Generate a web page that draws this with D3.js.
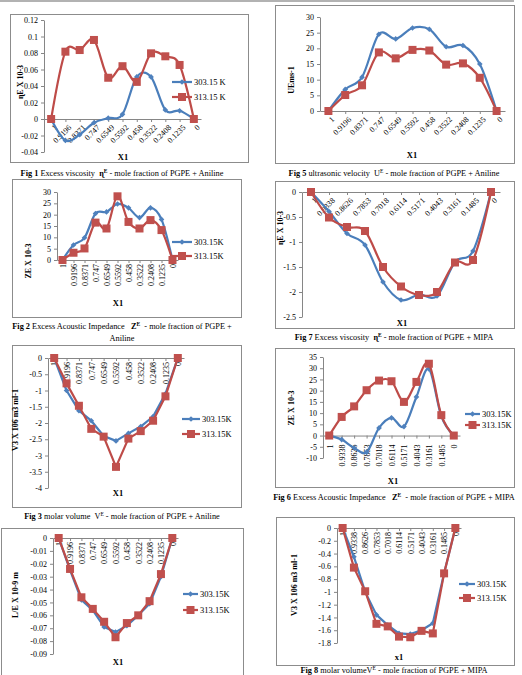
<!DOCTYPE html>
<html>
<head>
<meta charset="utf-8">
<script src="https://cdn.jsdelivr.net/npm/d3@7"></script>
<style>
  body { margin: 0; background: #fff; }
  svg { display: block; font-family: "Liberation Serif", "Times New Roman", serif; }
  .axis path, .axis line { stroke: #868686; }
  .axis text { font-size: 8px; fill: #000; font-family: "Liberation Serif", serif; }
</style>
</head>
<body>
<svg width="522" height="675"></svg>
<script>
// categories (mole fraction X1)
const catAniline = ["1", "0.9196", "0.8371", "0.747", "0.6549", "0.5592", "0.458", "0.3522", "0.2408", "0.1235", "0"];
const catMipa = ["1", "0.9338", "0.8626", "0.7853", "0.7018", "0.6114", "0.5171", "0.4043", "0.3161", "0.1485", "0"];

// series
const etaAn303 = [0, -0.026, -0.019, -0.0045, 0.001, 0.0057, 0.051, 0.051, 0.011, 0.010, 0];
const etaAn313 = [0, 0.0816, 0.0836, 0.0958, 0.050, 0.064, 0.045, 0.0796, 0.076, 0.0655, 0];
const uAn303 = [0, 6.9, 10.8, 24.5, 23, 26.5, 26.1, 20.5, 20.9, 15, 0];
const uAn313 = [0, 5.1, 8.2, 18.7, 16.8, 19.5, 19.3, 14.8, 15.2, 10.6, 0];
const zAn303 = [0, 6.6, 9.8, 20.5, 21.2, 24.7, 23, 18.7, 23, 17.9, 0];
const zAn313 = [0, 3.2, 5.1, 16.5, 13.9, 28.1, 16.8, 13.9, 17.6, 13.2, 0];
const etaMi303 = [0, -0.39, -0.83, -1.06, -1.80, -2.16, -2.05, -2.08, -1.40, -1.18, 0];
const etaMi313 = [0, -0.51, -0.70, -0.78, -1.50, -1.89, -2.06, -2.0, -1.41, -1.36, 0];
const vAn303 = [0, -1.0, -1.62, -1.93, -2.4, -2.55, -2.32, -2.11, -1.8, -1.1, 0];
const vAn313 = [0, -0.78, -1.47, -2.18, -2.42, -3.35, -2.48, -2.25, -1.93, -1.18, 0];
const zMi303 = [0, -1.8, -5.5, -7.4, 3.4, 7.9, 4.0, 17.2, 29.7, 8.6, 0];
const zMi313 = [0, 8.3, 13, 20.2, 24.5, 24.2, 15, 23.9, 32, 9.1, 0];
const lAn303 = [0, -0.025, -0.048, -0.056, -0.069, -0.073, -0.068, -0.060, -0.051, -0.030, 0];
const lAn313 = [0, -0.024, -0.046, -0.055, -0.065, -0.077, -0.066, -0.060, -0.049, -0.028, 0];
const vMi303 = [0, -0.45, -1.0, -1.36, -1.52, -1.65, -1.66, -1.6, -1.49, -0.71, 0];
const vMi313 = [0, -0.62, -0.99, -1.5, -1.54, -1.7, -1.71, -1.61, -1.65, -0.71, 0];

// y tick labels
const ticksEtaAn = [-0.04, -0.02, 0, 0.02, 0.04, 0.06, 0.08, 0.1, 0.12];
const ticksUAn = [0, 5, 10, 15, 20, 25, 30];
const ticksZAn = [0, 5, 10, 15, 20, 25, 30];
const ticksEtaMi = [0, -0.5, -1, -1.5, -2, -2.5];
const ticksVAn = [0, -0.5, -1, -1.5, -2, -2.5, -3, -3.5, -4];
const ticksZMi = [-10, -5, 0, 5, 10, 15, 20, 25, 30, 35];
const ticksLAn = [0, -0.01, -0.02, -0.03, -0.04, -0.05, -0.06, -0.07, -0.08, -0.09];
const ticksVMi = [0, -0.2, -0.4, -0.6, -0.8, -1, -1.2, -1.4, -1.6, -1.8];

const blue = "#4A7EBB", red = "#BE4B48";
const svg = d3.select("svg");

// gray rule at the very top (bottom of previous boxes)
svg.append("line").attr("x1", 0).attr("x2", 514).attr("y1", 1).attr("y2", 1)
  .attr("stroke", "#999").attr("stroke-width", 1.5);

const panels = [
  { box: [10, 14, 238, 148], L: 44, W: 157, top: 20, bot: 152, cats: catAniline,
    s1: etaAn303, s2: etaAn313, ticks: ticksEtaAn, lab: "diag", off: 7, smooth: true,
    yTitle: "ɳE X 10-3", yt: [20, 82], xTitle: "X1", xt: [123, 160],
    legend: { x: 172, y: [82, 97], w: 20, names: ["303.15 K", "313.15 K"] } },
  { box: [275, 5, 239, 158], L: 320, W: 185, top: 17, bot: 111, cats: catAniline,
    s1: uAn303, s2: uAn313, ticks: ticksUAn, lab: "diag", off: 7, smooth: true,
    yTitle: "UEms-1", yt: [291, 80], xTitle: "X1", xt: [412, 158], legend: null },
  { box: [12, 179, 229, 138], L: 57, W: 121, top: 192, bot: 260, cats: catAniline,
    s1: zAn303, s2: zAn313, ticks: ticksZAn, lab: "vert", off: 4, smooth: true,
    yTitle: "ZE  X 10-3", yt: [28, 261], xTitle: "X1", xt: [118, 306],
    legend: { x: 172, y: [242, 256], w: 20, names: ["303.15K", "313.15K"] } },
  { box: [275, 181, 239, 147], L: 302, W: 198, top: 192, bot: 317, cats: catMipa,
    s1: etaMi303, s2: etaMi313, ticks: ticksEtaMi, lab: "diag", off: 7, smooth: true,
    yTitle: "ɳE X 10-3", yt: [280, 228], xTitle: "X1", xt: [402, 326], legend: null },
  { box: [12, 345, 229, 162], L: 48, W: 136, top: 358, bot: 488, cats: catAniline,
    s1: vAn303, s2: vAn313, ticks: ticksVAn, lab: "vert", off: 4, smooth: false,
    yTitle: "V3 X 106 m3 ml-1", yt: [15, 420], xTitle: "X1", xt: [118, 496],
    legend: { x: 182, y: [419, 434], w: 18, names: ["303.15K", "313.15K"] } },
  { box: [275, 348, 239, 139], L: 323, W: 137, top: 357, bot: 458, cats: catMipa,
    s1: zMi303, s2: zMi313, ticks: ticksZMi, lab: "vert", off: 9, smooth: true,
    yTitle: "ZE  X 10-3", yt: [291, 408], xTitle: "X1", xt: [393, 484],
    legend: { x: 465, y: [414, 425], w: 15, names: ["303.15K", "313.15K"] } },
  { box: [1, 528, 242, 160], L: 53, W: 125, top: 538, bot: 654, cats: catAniline,
    s1: lAn303, s2: lAn313, ticks: ticksLAn, lab: "vert", off: 4, smooth: false,
    yTitle: "L/E X 10-9 m", yt: [15, 595], xTitle: "X1", xt: [118, 665],
    legend: { x: 183, y: [594, 610], w: 15, names: ["303.15K", "313.15K"] } },
  { box: [276, 517, 238, 148], L: 337, W: 124, top: 528, bot: 643, cats: catMipa,
    s1: vMi303, s2: vMi313, ticks: ticksVMi, lab: "vert", off: 4, smooth: false,
    yTitle: "V3 X 106 m3 ml-1", yt: [294, 585], xTitle: "x1", xt: [399, 660],
    legend: { x: 459, y: [584, 598], w: 16, names: ["303.15K", "313.15K"] } }
];

function marker(g, kind, x, y) {
  if (kind === 0) {
    g.append("rect").attr("x", -2).attr("y", -2).attr("width", 4).attr("height", 4)
      .attr("fill", "#4F81BD")
      .attr("transform", `translate(${x},${y}) rotate(45)`);
  } else {
    g.append("rect").attr("x", x - 4).attr("y", y - 4).attr("width", 8).attr("height", 8)
      .attr("fill", "#C0504D");
  }
}

function drawPanel(p) {
  const g = svg.append("g");
  g.append("rect").attr("x", p.box[0] + 0.5).attr("y", p.box[1] + 0.5)
    .attr("width", p.box[2]).attr("height", p.box[3])
    .attr("fill", "none").attr("stroke", "#8c8c8c");

  const x = d3.scalePoint().domain(p.cats).range([p.L, p.L + p.W]).padding(0.5);
  const y = d3.scaleLinear().domain(d3.extent(p.ticks)).range([p.bot, p.top]);

  g.append("g").attr("class", "axis")
    .attr("transform", `translate(${p.L},0)`)
    .call(d3.axisLeft(y).tickValues(p.ticks).tickFormat(d => String(d)).tickSize(3).tickSizeOuter(0).tickPadding(3));

  const xa = g.append("g").attr("class", "axis")
    .attr("transform", `translate(0,${y(0)})`)
    .call(d3.axisBottom(x).tickSize(3).tickSizeOuter(0));
  const tx = xa.selectAll(".tick text").attr("x", 0).attr("y", 0).attr("dy", "0.35em")
    .attr("text-anchor", "end");
  if (p.lab === "diag") tx.attr("transform", `translate(4,${p.off}) rotate(-45)`);
  else tx.attr("transform", `translate(0,${p.off}) rotate(-90)`);

  const line = d3.line()
    .x((d, i) => x(p.cats[i])).y(d => y(d))
    .curve(p.smooth ? d3.curveCardinal.tension(0) : d3.curveLinear);

  [p.s1, p.s2].forEach((s, k) => {
    g.append("path").datum(s).attr("d", line).attr("fill", "none")
      .attr("stroke", k === 0 ? blue : red).attr("stroke-width", 2.2)
      .attr("stroke-linejoin", "round");
    const mg = g.append("g");
    s.forEach((v, i) => marker(mg, k, x(p.cats[i]), y(v)));
  });

  if (p.legend) {
    const lg = p.legend;
    [0, 1].forEach(k => {
      g.append("line").attr("x1", lg.x).attr("x2", lg.x + lg.w)
        .attr("y1", lg.y[k]).attr("y2", lg.y[k])
        .attr("stroke", k === 0 ? blue : red).attr("stroke-width", 2.2);
      marker(g, k, lg.x + lg.w / 2, lg.y[k]);
      g.append("text").attr("x", lg.x + lg.w + 2).attr("y", lg.y[k]).attr("dy", "0.35em")
        .attr("font-size", 8.5).text(lg.names[k]);
    });
  }

  g.append("text").attr("transform", `translate(${p.yt[0]},${p.yt[1]}) rotate(-90)`)
    .attr("text-anchor", "middle").attr("dy", "0.35em")
    .attr("font-size", 8).attr("font-weight", "bold").text(p.yTitle);
  g.append("text").attr("x", p.xt[0]).attr("y", p.xt[1]).attr("text-anchor", "middle")
    .attr("font-size", 8.5).attr("font-weight", "bold").text(p.xTitle);
}

panels.forEach(drawPanel);

// figure captions
const captions = [
  { x: 122, y: 176, parts: [["Fig 1", 1], [" Excess viscosity  "], ["ɳ", 1], ["E", 1, 1], [" - mole fraction of PGPE + Aniline"]] },
  { x: 394, y: 176, parts: [["Fig 5", 1], [" ultrasonic velocity  U"], ["E", 0, 1], [" - mole fraction of PGPE + Aniline"]] },
  { x: 122, y: 329, parts: [["Fig 2", 1], [" Excess Acoustic Impedance   "], ["Z", 1], ["E", 1, 1], ["  - mole fraction of PGPE +"]] },
  { x: 122, y: 341, parts: [["Aniline"]] },
  { x: 394, y: 340, parts: [["Fig 7", 1], [" Excess viscosity  "], ["ɳ", 1], ["E", 1, 1], [" - mole fraction of PGPE + MIPA"]] },
  { x: 122, y: 519, parts: [["Fig 3", 1], [" molar volume  V"], ["E", 0, 1], [" - mole fraction of PGPE + Aniline"]] },
  { x: 394, y: 500, parts: [["Fig 6", 1], [" Excess Acoustic Impedance   "], ["Z", 1], ["E", 1, 1], ["  - mole fraction of PGPE + MIPA"]] },
  { x: 394, y: 673, parts: [["Fig 8", 1], [" molar volumeV"], ["E", 0, 1], [" - mole fraction of PGPE + MIPA"]] }
];

captions.forEach(c => {
  const t = svg.append("text").attr("x", c.x).attr("y", c.y)
    .attr("text-anchor", "middle").attr("font-size", 8.3).attr("xml:space", "preserve");
  let up = false;
  c.parts.forEach(([s, b, sup]) => {
    const ts = t.append("tspan").text(s).attr("font-weight", b ? "bold" : "normal");
    if (sup) { ts.attr("dy", -3).attr("font-size", 5.5); up = true; }
    else if (up) { ts.attr("dy", 3); up = false; }
  });
});
</script>
</body>
</html>
